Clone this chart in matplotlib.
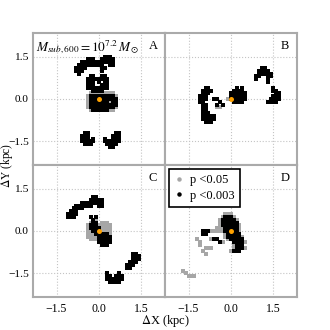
import numpy as np
import matplotlib as mpl
mpl.use('Agg')
import matplotlib.pyplot as plt
from matplotlib.lines import Line2D

plt.rc('font', family='serif', serif=['Liberation Serif', 'DejaVu Serif'])
plt.rc('mathtext', fontset='stix')

#=========================================================================
# significance maps on a 0.1 kpc grid
# '#' : p<0.003   '+' : p<0.05
# column i -> x = -1.8 + 0.1*i ,  row j -> y = 1.6 - 0.1*j
#=========================================================================
cell = 0.1
x_first = -1.8
y_first = 1.6
ticks = [-1.5, 0.0, 1.5]
tick_labels = ['\u22121.5', '0.0', '1.5']
lim = 2.33
panel_names = ['A', 'B', 'C', 'D']
title = r'$M_{sub,600} = 10^{7.2}\,M_\odot$'
legend_labels = ['p <0.05', 'p <0.003']

map_A = [
    '',
    '....................###',
    '..............###..#####',
    '............############',
    '...........#########..##',
    '..........####.....##',
    '..........###......#',
    '...........#',
    '...............##..##',
    '..............########',
    '..............###.#.##',
    '..............###..###',
    '..............########',
    '................####',
    '...............+++++++++',
    '..............+#########+',
    '..............+##########',
    '..............+#######+##',
    '..............+##########',
    '..............+#########+',
    '...............+######++',
    '', '', '', '', '', '', '',
    '.............##.........##',
    '............###........###',
    '............###.#...#..###',
    '............#####...######',
    '.............###.....####',
    '......................##',
    '', '',
]

map_B = [
    '', '', '', '', '',
    '.............................##',
    '............................####',
    '............................#####',
    '...........................##..##',
    '...........................#...#',
    '...............................#',
    '',
    '.........##.........#.#..........#',
    '........####.......####..........##',
    '........###.......######..........##',
    '.......###........######.........###',
    '.......###..##...+######........####',
    '.......##.....#....####........####',
    '........##...#.#',
    '........##...++',
    '........##',
    '........###',
    '........#####',
    '........#####',
    '.........###',
    '', '', '', '', '', '', '', '', '', '', '',
]

map_C = [
    '', '', '', '',
    '................##',
    '...............#####',
    '............########',
    '..........######..##',
    '.........####',
    '........###',
    '.......####',
    '.......###.....#.#',
    '................#+',
    '...............+##.+++',
    '..............+###+++++',
    '..............+####++++',
    '..............++###++++',
    '..............+++#####+',
    '..............++++#####',
    '...............+++#####',
    '..................#####',
    '...................###',
    '', '',
    '..............................##',
    '..............................###',
    '..............................###',
    '.............................###',
    '............................###',
    '............................##',
    '',
    '.....................#...#',
    '.....................##.###',
    '.....................######',
    '......................####',
    '',
]

map_D = [
    '', '', '', '', '', '', '', '', '', '',
    '................+++',
    '...............+###+',
    '..............+#####+',
    '..............+######',
    '..............+######+',
    '.............+++#####+',
    '........###+++++#####+',
    '........##......+#####',
    '................+#####+',
    '......+....+##...+#####',
    '.......+......#+...####+',
    '.......+...........+###',
    '.........+++.......+###+',
    '........+.........+###',
    '.........+',
    '', '', '', '', '',
    '.+',
    '..+',
    '...+++',
    '', '', '',
]

maps = [map_A, map_B, map_C, map_D]

black = 'k'
grey = '#a6a6a6'
orange = '#ffa200'


def cells(mask, ch):
    xs, ys = [], []
    for j, row in enumerate(mask):
        for i, c in enumerate(row):
            if c == ch:
                xs.append(x_first + cell * i)
                ys.append(y_first - cell * j)
    return np.array(xs), np.array(ys)


#=========================================================================
# figure
#=========================================================================
fig, axs = plt.subplots(2, 2, figsize=(3.3, 3.3), dpi=100,
                        sharex=True, sharey=True)
fig.subplots_adjust(left=0.1, right=0.9, bottom=0.1, top=0.9,
                    wspace=0, hspace=0)

for k, ax in enumerate(axs.flat):
    gx, gy = cells(maps[k], '+')
    bx, by = cells(maps[k], '#')
    ax.scatter(gx, gy, s=5.4, marker='s', c=grey, linewidths=0, zorder=2)
    ax.scatter(bx, by, s=5.4, marker='s', c=black, linewidths=0, zorder=3)
    ax.plot([0], [0], 'o', color=orange, ms=3.6, mec='none', zorder=4)

    ax.set_xlim(-lim, lim)
    ax.set_ylim(-lim, lim)
    ax.set_xticks(ticks)
    ax.set_yticks(ticks)
    ax.set_xticklabels(tick_labels)
    ax.set_yticklabels(tick_labels)
    ax.tick_params(axis='x', length=0, labelsize=8.5, pad=4)
    ax.tick_params(axis='y', length=0, labelsize=8.2, pad=3)
    ax.grid(True, ls=':', color='#c4c4c4', lw=0.8)
    ax.set_axisbelow(True)
    for sp in ax.spines.values():
        sp.set_color('#aaaaaa')
        sp.set_linewidth(1.5)
    ax.text(0.91, 0.9, panel_names[k], transform=ax.transAxes,
            ha='center', va='center', fontsize=9)

axs[0, 0].text(0.02, 0.89, title, transform=axs[0, 0].transAxes,
               ha='left', va='center', fontsize=9.5)

handles = [Line2D([], [], ls='none', marker='o', color=grey, ms=2.2),
           Line2D([], [], ls='none', marker='o', color=black, ms=2.2)]
leg = axs[1, 1].legend(handles, legend_labels, loc='upper left',
                       bbox_to_anchor=(0.03, 0.97), fontsize=9,
                       frameon=True, fancybox=False, handlelength=0.8,
                       handletextpad=0.5, borderpad=0.4, labelspacing=0.3,
                       borderaxespad=0)
leg.get_frame().set_edgecolor('k')
leg.get_frame().set_linewidth(1.2)
leg.get_frame().set_alpha(1)

fig.text(0.5, 0.027, r'$\Delta$X (kpc)', ha='center', va='center', fontsize=9)
fig.text(0.02, 0.5, r'$\Delta$Y (kpc)', ha='center', va='center',
         rotation=90, fontsize=8.3)

plt.savefig('out.png', dpi=100)
